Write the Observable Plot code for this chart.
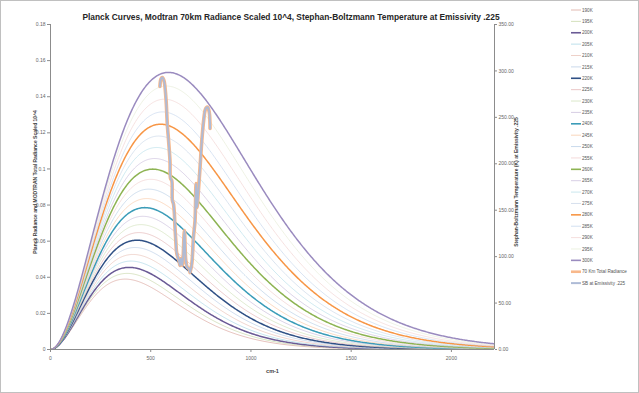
<!DOCTYPE html>
<html><head><meta charset="utf-8">
<script src="https://cdn.jsdelivr.net/npm/d3@7"></script>
<script src="https://cdn.jsdelivr.net/npm/@observablehq/plot@0.6"></script>
<style>
body{margin:0;background:#fff;}
#wrap{position:relative;width:639px;height:393px;overflow:hidden;}
#frame{position:absolute;left:0;top:0;width:637px;height:391px;border:1px solid #c0c0c0;pointer-events:none;}
</style></head><body><div id="wrap"><div id="frame"></div></div>
<script>
// ---- data ----
const titleText = "Planck Curves, Modtran 70km Radiance Scaled 10^4, Stephan-Boltzmann Temperature at Emissivity .225";
const temperatures = [190,195,200,205,210,215,220,225,230,235,240,245,250,255,260,265,270,275,280,285,290,295,300];
const curveColors = ["#dba8a0","#c9d8ab","#6a5a95","#acd9e6","#e9c4ba","#bccfe6","#2f5085","#e4b8b8","#d3e2bd","#cbc0dc","#3b9cb8","#f9ccaa","#bcd1e7","#f1d1d0","#8db352","#cdc2de","#bce1eb","#cbd8e8","#f79646","#c8d8ee","#f2d6d4","#e6edd9","#9a8bbf"];
const highlighted = [200,220,240,260,280,300];
const wnMax = 2215, wnStep = 5;
// Modtran 70 km total radiance (scaled 10^4)
const modtranWn = [546,551,558,566,576,583,589,596,599,605,608,613,618,621,625,630,641,646,651,658,668,675,683,691,696,705,713,721,726,731,738,746,755,764,771,776,784,792,796];
const modtranRad = [0.1457,0.1498,0.1506,0.1490,0.1390,0.1241,0.1158,0.1047,0.0947,0.0936,0.0825,0.0809,0.0753,0.0676,0.0604,0.0532,0.0493,0.0465,0.0504,0.0465,0.0659,0.0493,0.0454,0.0449,0.0426,0.0476,0.0620,0.0714,0.0919,0.0786,0.0881,0.1008,0.1158,0.1268,0.1324,0.1338,0.1342,0.1314,0.1224];
// Stephan-Boltzmann temperature at emissivity .225 (K)
const sbTemp = [283.2,291.3,292.9,289.7,270.3,241.2,225.1,203.5,184.2,182.0,160.5,157.2,146.5,131.4,117.4,103.4,95.8,90.5,98.0,90.5,128.2,95.8,88.3,87.2,82.9,92.6,120.6,138.9,178.8,152.9,171.2,196.0,225.1,246.6,257.4,260.1,260.9,255.6,238.0];
const leftTicks = [0,0.02,0.04,0.06,0.08,0.1,0.12,0.14,0.16,0.18];
const rightTicks = [0,50,100,150,200,250,300,350];
const xTicks = [0,500,1000,1500,2000];
const leftMax = 0.18, rightMax = 350;

// Planck spectral radiance per wavenumber, W/(m^2 sr cm^-1)
const c1 = 1.191042e-8, c2 = 1.4387752;
const planck = (nu, T) => nu <= 0 ? 0 : c1 * nu ** 3 / (Math.exp(c2 * nu / T) - 1);
const wnGrid = d3.range(0, wnMax + wnStep, wnStep);

const modtran = modtranWn.map((w, i) => ({wn: w, rad: modtranRad[i], T: sbTemp[i]}));
const toLeft = t => t * leftMax / rightMax;

const fontMain = "Liberation Sans, Arial, sans-serif";

const marks = [];
temperatures.forEach((T, i) => {
  const hi = highlighted.includes(T);
  marks.push(Plot.line(wnGrid.map(w => ({wn: w, B: planck(w, T)})), {
    x: "wn", y: "B", stroke: curveColors[i], strokeWidth: hi ? 1.5 : 0.7, clip: true
  }));
});
marks.push(Plot.line(modtran, {x: "wn", y: "rad", stroke: "#f8b88b", strokeWidth: 3.6, curve: "catmull-rom"}));
marks.push(Plot.line(modtran, {x: "wn", y: d => toLeft(d.T), stroke: "#aebbd6", strokeWidth: 2, curve: "catmull-rom"}));
marks.push(Plot.ruleX([0], {stroke: "#8c8c8c", strokeWidth: 1}));
marks.push(Plot.ruleX([wnMax], {stroke: "#8c8c8c", strokeWidth: 1}));
marks.push(Plot.ruleY([0], {stroke: "#8c8c8c", strokeWidth: 1}));
marks.push(Plot.axisY(leftTicks, {anchor: "left", tickSize: 3, tickPadding: 2, tickFormat: d => String(+d.toFixed(2)), fontSize: 5, fill: "#666", stroke: "#8c8c8c", label: null}));
marks.push(Plot.axisY(rightTicks.map(toLeft), {anchor: "right", tickSize: 2, tickPadding: 2, tickFormat: d => (d * rightMax / leftMax).toFixed(2), fontSize: 5, fill: "#666", stroke: "#8c8c8c", label: null}));
marks.push(Plot.axisX(xTicks, {anchor: "bottom", tickSize: 3, tickPadding: 4, tickFormat: d => String(d), fontSize: 5, fill: "#666", stroke: "#8c8c8c", label: null}));
marks.push(Plot.text(["Planck Radiance and MODTRAN Total Radiance Scaled 10^4"], {frameAnchor: "left", textAnchor: "middle", rotate: -90, dx: -15, dy: -5, fontSize: 5, fontWeight: "bold", fill: "#404040"}));
marks.push(Plot.text(["Stephan-Boltzmann Temperature (K) at Emissivity .225"], {frameAnchor: "right", textAnchor: "middle", rotate: -90, dx: 22, dy: -5, fontSize: 5, fontWeight: "bold", fill: "#404040"}));
marks.push(Plot.text(["cm-1"], {frameAnchor: "bottom", textAnchor: "middle", dy: 23, fontSize: 5.5, fontWeight: "bold", fill: "#404040"}));

const chart = Plot.plot({
  width: 639, height: 393,
  marginLeft: 50, marginRight: 145, marginTop: 24, marginBottom: 44,
  style: {fontFamily: fontMain, background: "transparent", overflow: "visible"},
  x: {domain: [0, wnMax], axis: null},
  y: {domain: [0, leftMax], axis: null},
  marks
});
const wrap = document.getElementById("wrap");
wrap.insertBefore(chart, wrap.firstChild);

const svg = d3.select(chart);
svg.append("text").attr("x", 291).attr("y", 20).attr("text-anchor", "middle")
  .attr("font-family", fontMain).attr("font-size", 8.4).attr("font-weight", "bold").attr("fill", "#262626")
  .text(titleText);

// legend
const legendItems = temperatures.map((T, i) => ({label: T + "K", color: curveColors[i], w: highlighted.includes(T) ? 1.6 : 0.8}))
  .concat([{label: "70 Km Total Radiance", color: "#f8b88b", w: 2.6}, {label: "SB at Emissivity .225", color: "#aebbd6", w: 2}]);
const lg = svg.append("g").attr("font-family", fontMain).attr("font-size", 4.6).attr("fill", "#555").attr("text-anchor", "start");
legendItems.forEach((it, i) => {
  const y = 10 + i * 11.38;
  lg.append("line").attr("x1", 571).attr("x2", 581).attr("y1", y).attr("y2", y).attr("stroke", it.color).attr("stroke-width", it.w);
  lg.append("text").attr("x", 582).attr("y", y).attr("dy", "0.35em").attr("text-anchor", "start").text(it.label);
});
</script></body></html>
